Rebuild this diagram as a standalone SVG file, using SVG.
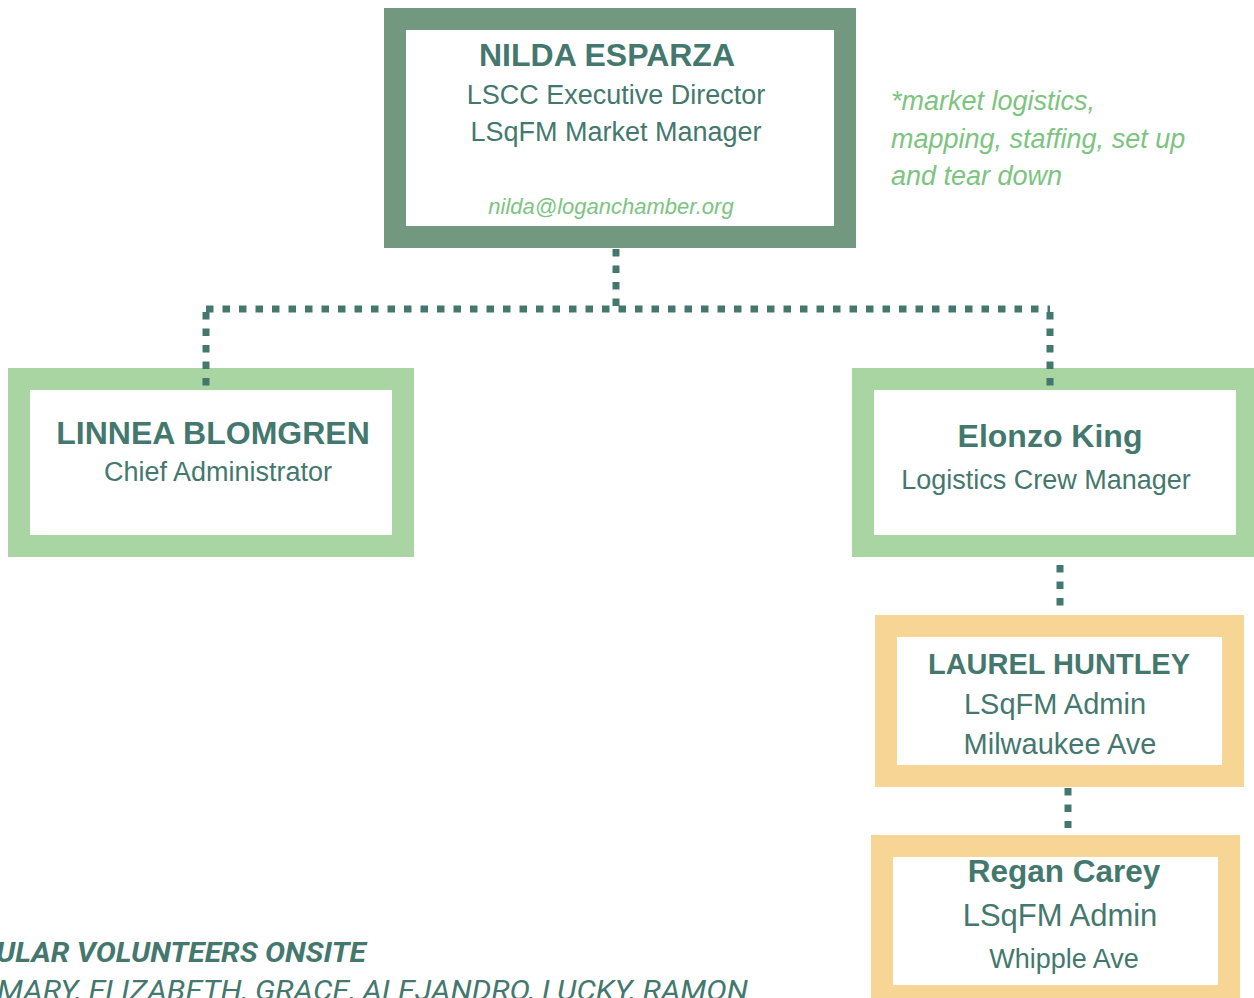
<svg xmlns="http://www.w3.org/2000/svg" width="1254" height="998" viewBox="0 0 1254 998">
<style>
.t{font-family:"Liberation Sans",Arial,sans-serif;fill:#44786F;text-anchor:middle}
.b{font-weight:bold}
.g{font-family:"Liberation Sans",Arial,sans-serif;fill:#7CC47F;font-style:italic}
.c{fill:none;stroke:#44786F;stroke-width:7;stroke-dasharray:7.5 9}
.r{font-family:Roboto,"Liberation Sans",sans-serif;fill:#44786F;font-style:italic}
</style>
<rect width="1254" height="998" fill="#fff"/>
<g id="nilda">
<rect x="395" y="19" width="450" height="218" fill="#fff" stroke="#72987F" stroke-width="22"/>
<text class="t b" x="607" y="66" font-size="32">NILDA ESPARZA</text>
<text class="t" x="616" y="104" font-size="27">LSCC Executive Director</text>
<text class="t" x="616" y="141" font-size="27">LSqFM Market Manager</text>
<text class="g" x="611" y="214" font-size="22" text-anchor="middle">nilda@loganchamber.org</text>
</g>
<g id="note">
<text class="g" x="891" y="110" font-size="27">*market logistics,</text>
<text class="g" x="891" y="148" font-size="27">mapping, staffing, set up</text>
<text class="g" x="891" y="185" font-size="27">and tear down</text>
</g>
<g id="linnea">
<rect x="19" y="379" width="384" height="167" fill="#fff" stroke="#A8D5A2" stroke-width="22"/>
<text class="t b" x="213" y="444" font-size="32">LINNEA BLOMGREN</text>
<text class="t" x="218" y="481" font-size="27">Chief Administrator</text>
</g>
<g id="elonzo">
<rect x="863" y="379" width="384" height="167" fill="#fff" stroke="#A8D5A2" stroke-width="22"/>
<text class="t b" x="1050" y="447" font-size="32">Elonzo King</text>
<text class="t" x="1046" y="489" font-size="27">Logistics Crew Manager</text>
</g>
<g id="laurel">
<rect x="886" y="626" width="347" height="150" fill="#fff" stroke="#F7D594" stroke-width="22"/>
<text class="t b" x="1059" y="674" font-size="29">LAUREL HUNTLEY</text>
<text class="t" x="1055" y="714" font-size="29">LSqFM Admin</text>
<text class="t" x="1060" y="754" font-size="29">Milwaukee Ave</text>
</g>
<g id="regan">
<rect x="882" y="846" width="347" height="150" fill="#fff" stroke="#F7D594" stroke-width="22"/>
<text class="t b" x="1064" y="882" font-size="31.5">Regan Carey</text>
<text class="t" x="1060" y="926" font-size="31">LSqFM Admin</text>
<text class="t" x="1064" y="968" font-size="27">Whipple Ave</text>
</g>
<g id="connectors">
<path class="c" d="M616 249 V309"/>
<path class="c" d="M206 309 H1050"/>
<path class="c" d="M206 312 V386"/>
<path class="c" d="M1050 312 V386"/>
<path class="c" d="M1060 565 V606"/>
<path class="c" d="M1068 788 V828"/>
</g>
<g id="volunteers">
<text class="r" x="-4" y="962" font-size="27" font-weight="bold" textLength="370" lengthAdjust="spacingAndGlyphs">ULAR VOLUNTEERS ONSITE</text>
<text class="r" x="-3" y="1000" font-size="27" textLength="751" lengthAdjust="spacingAndGlyphs">MARY, ELIZABETH, GRACE, ALEJANDRO, LUCKY, RAMON</text>
</g>
</svg>
